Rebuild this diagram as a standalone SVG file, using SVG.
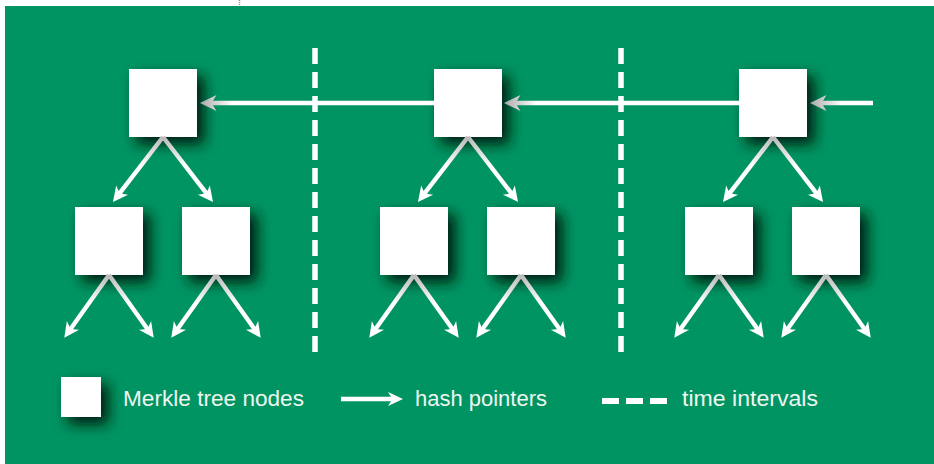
<svg xmlns="http://www.w3.org/2000/svg" xmlns:xlink="http://www.w3.org/1999/xlink" width="934" height="464" viewBox="0 0 934 464">
  <style>
    .node { fill: #ffffff; filter: url(#shadow); }
    .lbl { font-family: "Liberation Sans", Arial, sans-serif; font-size: 22px; fill: #eef6f0; }
    .tick { stroke: #ffffff; stroke-width: 5.5; stroke-dasharray: 16 8; fill: none; }
  </style>
  <defs>
    <filter id="shadow" x="-50%" y="-50%" width="220%" height="220%">
      <feDropShadow dx="7" dy="7" stdDeviation="7" flood-color="#001a0e" flood-opacity="1"/>
    </filter>
    <linearGradient id="gTree" x1="0" y1="0" x2="1" y2="0">
      <stop offset="0" stop-color="#b9b9b9"/>
      <stop offset="0.45" stop-color="#ffffff"/>
      <stop offset="1" stop-color="#ffffff"/>
    </linearGradient>
    <linearGradient id="gH1" gradientUnits="userSpaceOnUse" x1="200" y1="0" x2="232" y2="0">
      <stop offset="0" stop-color="#a9a9a9"/>
      <stop offset="1" stop-color="#ffffff"/>
    </linearGradient>
    <linearGradient id="gH2" gradientUnits="userSpaceOnUse" x1="504" y1="0" x2="536" y2="0">
      <stop offset="0" stop-color="#a9a9a9"/>
      <stop offset="1" stop-color="#ffffff"/>
    </linearGradient>
    <linearGradient id="gH3" gradientUnits="userSpaceOnUse" x1="810" y1="0" x2="842" y2="0">
      <stop offset="0" stop-color="#a9a9a9"/>
      <stop offset="1" stop-color="#ffffff"/>
    </linearGradient>
    <!-- arrow shapes pointing along +x, tail at origin -->
    <path id="arrA" d="M0,-2.2 L70,-2.2 L67,-7.5 L82,0 L67,7.5 L70,2.2 L0,2.2 Z" fill="url(#gTree)"/>
    <path id="arrB" d="M0,-2.2 L65,-2.2 L62,-7.5 L77,0 L62,7.5 L65,2.2 L0,2.2 Z" fill="url(#gTree)"/>
  </defs>

  <rect x="0" y="0" width="934" height="464" fill="#ffffff"/>
  <rect x="5" y="6" width="929" height="458" fill="#009462"/>
  <line x1="239.5" y1="0" x2="239.5" y2="6" stroke="#8a8a8a" stroke-width="1.5" stroke-dasharray="1 1"/>

  <!-- time interval separators -->
  <g id="separators">
    <line class="tick" x1="315" y1="48" x2="315" y2="353"/>
    <line class="tick" x1="621" y1="48" x2="621" y2="353"/>
  </g>

  <!-- nodes -->
  <g id="tree1">
    <g id="t1-root"><rect class="node" x="129" y="69" width="68" height="68"/></g>
    <g id="t1-left"><rect class="node" x="75" y="207" width="68" height="68"/></g>
    <g id="t1-right"><rect class="node" x="182" y="207" width="68" height="68"/></g>
  </g>
  <g id="tree2">
    <g id="t2-root"><rect class="node" x="434" y="69" width="68" height="68"/></g>
    <g id="t2-left"><rect class="node" x="380" y="207" width="68" height="68"/></g>
    <g id="t2-right"><rect class="node" x="487" y="207" width="68" height="68"/></g>
  </g>
  <g id="tree3">
    <g id="t3-root"><rect class="node" x="739" y="69" width="68" height="68"/></g>
    <g id="t3-left"><rect class="node" x="685" y="207" width="68" height="68"/></g>
    <g id="t3-right"><rect class="node" x="792" y="207" width="68" height="68"/></g>
  </g>

  <!-- connectors -->
  <g id="connectors">
    <!-- tree 1 -->
    <use xlink:href="#arrA" href="#arrA" transform="translate(163,137) rotate(127.6)"/>
    <use xlink:href="#arrA" href="#arrA" transform="translate(163,137) rotate(52.4)"/>
    <use xlink:href="#arrB" href="#arrB" transform="translate(109,275) rotate(125.5)"/>
    <use xlink:href="#arrB" href="#arrB" transform="translate(109,275) rotate(54.5)"/>
    <use xlink:href="#arrB" href="#arrB" transform="translate(216,275) rotate(125.5)"/>
    <use xlink:href="#arrB" href="#arrB" transform="translate(216,275) rotate(54.5)"/>
    <!-- tree 2 -->
    <use xlink:href="#arrA" href="#arrA" transform="translate(468,137) rotate(127.6)"/>
    <use xlink:href="#arrA" href="#arrA" transform="translate(468,137) rotate(52.4)"/>
    <use xlink:href="#arrB" href="#arrB" transform="translate(414,275) rotate(125.5)"/>
    <use xlink:href="#arrB" href="#arrB" transform="translate(414,275) rotate(54.5)"/>
    <use xlink:href="#arrB" href="#arrB" transform="translate(521,275) rotate(125.5)"/>
    <use xlink:href="#arrB" href="#arrB" transform="translate(521,275) rotate(54.5)"/>
    <!-- tree 3 -->
    <use xlink:href="#arrA" href="#arrA" transform="translate(773,137) rotate(127.6)"/>
    <use xlink:href="#arrA" href="#arrA" transform="translate(773,137) rotate(52.4)"/>
    <use xlink:href="#arrB" href="#arrB" transform="translate(719,275) rotate(125.5)"/>
    <use xlink:href="#arrB" href="#arrB" transform="translate(719,275) rotate(54.5)"/>
    <use xlink:href="#arrB" href="#arrB" transform="translate(826,275) rotate(125.5)"/>
    <use xlink:href="#arrB" href="#arrB" transform="translate(826,275) rotate(54.5)"/>
    <!-- chain pointers (right to left) -->
    <path d="M434,100.8 L213,100.8 L216.5,95 L200,103 L216.5,111 L213,105.2 L434,105.2 Z" fill="url(#gH1)"/>
    <path d="M739,100.8 L517,100.8 L520.5,95 L504,103 L520.5,111 L517,105.2 L739,105.2 Z" fill="url(#gH2)"/>
    <path d="M873,100.8 L823,100.8 L826.5,95 L810,103 L826.5,111 L823,105.2 L873,105.2 Z" fill="url(#gH3)"/>
  </g>

  <!-- legend -->
  <g id="legend">
    <g id="legend-node">
      <rect class="node" x="61" y="377" width="40" height="40"/>
      <text class="lbl" x="123" y="406" textLength="181" lengthAdjust="spacingAndGlyphs">Merkle tree nodes</text>
    </g>
    <g id="legend-pointer">
      <path d="M341,396.8 L391,396.8 L388,392 L403,399 L388,406 L391,401.2 L341,401.2 Z" fill="#ffffff"/>
      <text class="lbl" x="415" y="406" textLength="132" lengthAdjust="spacingAndGlyphs">hash pointers</text>
    </g>
    <g id="legend-interval">
      <line x1="602" y1="401" x2="667" y2="401" stroke="#ffffff" stroke-width="6" stroke-dasharray="17 7"/>
      <text class="lbl" x="682" y="406" textLength="136" lengthAdjust="spacingAndGlyphs">time intervals</text>
    </g>
  </g>
</svg>
